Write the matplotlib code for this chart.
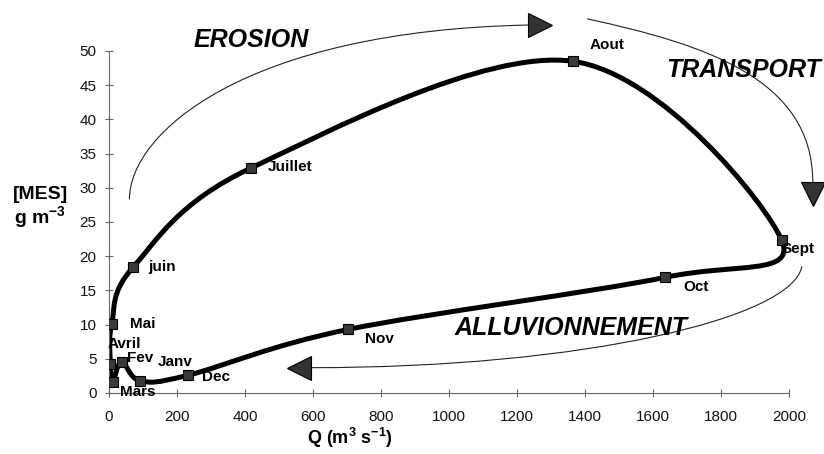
import numpy as np
import matplotlib
matplotlib.use('Agg')
import matplotlib.pyplot as plt
from matplotlib.path import Path
from matplotlib.patches import PathPatch

plt.rcParams['font.family'] = ['Liberation Sans', 'DejaVu Sans']
plt.rcParams['mathtext.fontset'] = 'custom'
plt.rcParams['mathtext.rm'] = 'Liberation Sans:bold'
plt.rcParams['mathtext.bf'] = 'Liberation Sans:bold'
plt.rcParams['mathtext.it'] = 'Liberation Sans:bold:italic'

# ---- data ----
months = ['Janv', 'Fev', 'Mars', 'Avril', 'Mai', 'juin', 'Juillet',
          'Aout', 'Sept', 'Oct', 'Nov', 'Dec']
q_flow = [91, 37, 11, 4, 8, 71, 418, 1364, 1978, 1635, 704, 233]
mes_conc = [1.8, 4.6, 1.65, 4.3, 10.1, 18.4, 32.9, 48.5, 22.4, 16.9, 9.3, 2.6]
x_ticks = list(range(0, 2001, 200))
y_ticks = list(range(0, 51, 5))

# label offsets in pixels (position styling, not data)
label_offsets = [(18, 19), (5, 4), (7, -10), (-3, 20), (18, 0), (15, 0),
                 (17, 1), (17, 16), (0, -9), (18, -10), (17, -10), (14, -2)]

fig = plt.figure(figsize=(8.24, 4.54), dpi=100)
ax = fig.add_axes([0.1323, 0.1344, 0.8252, 0.7533])
ax.set_xlim(0, 2000)
ax.set_ylim(0, 50)
ax.set_xticks(x_ticks)
ax.set_yticks(y_ticks)
for s in ['top', 'right']:
    ax.spines[s].set_visible(False)
for s in ['left', 'bottom']:
    ax.spines[s].set_color('#666666')
    ax.spines[s].set_linewidth(0.8)
ax.tick_params(direction='inout', length=6, width=0.8, color='#666666',
               labelsize=11, labelcolor='#111111')
ax.tick_params(axis='x', pad=9)
ax.tick_params(axis='y', pad=6)

# ---- smoothed closed loop (Excel-like bezier smoothing) ----
pts = np.column_stack([q_flow, mes_conc]).astype(float)
n = len(pts)
verts = [pts[0]]
codes = [Path.MOVETO]
for i in range(n):
    p0 = pts[i - 1]
    p1 = pts[i]
    p2 = pts[(i + 1) % n]
    p3 = pts[(i + 2) % n]
    c1 = p1 + (p2 - p0) / 6.0
    c2 = p2 - (p3 - p1) / 6.0
    verts += [c1, c2, p2]
    codes += [Path.CURVE4] * 3
loop = PathPatch(Path(verts, codes), fill=False, lw=3.6, edgecolor='black',
                 capstyle='round', joinstyle='round', zorder=2)
ax.add_patch(loop)

ax.plot(q_flow, mes_conc, ls='none', marker='s', ms=7.5, mfc='#3a3a3a',
        mec='black', mew=0.8, zorder=3)

for m, x, y, off in zip(months, q_flow, mes_conc, label_offsets):
    ax.annotate(m, (x, y), xytext=off, textcoords='offset pixels',
                ha='left', va='center', fontsize=11, fontweight='bold',
                annotation_clip=False, zorder=4)


# ---- curved process arrows ----
def curve(p0, p1, p2, p3):
    path = Path([p0, p1, p2, p3], [Path.MOVETO] + [Path.CURVE4] * 3)
    ax.add_patch(PathPatch(path, fill=False, lw=0.8, edgecolor='#222222',
                           clip_on=False, zorder=1))


curve((60, 28.3), (60, 38), (400, 53), (1238, 53.8))
ax.plot([1268], [53.8], marker='>', ms=17, mfc='#333333', mec='black',
        mew=0.8, clip_on=False, zorder=3)

curve((1406, 54.7), (1750, 51), (2070, 46), (2070, 30.8))
ax.plot([2070], [29.1], marker='v', ms=17, mfc='#333333', mec='black',
        mew=0.8, clip_on=False, zorder=3)

curve((2038, 18.5), (2010, 11), (1400, 3.7), (597, 3.7))
ax.plot([559], [3.7], marker='<', ms=17, mfc='#333333', mec='black',
        mew=0.8, clip_on=False, zorder=3)

big = dict(fontsize=18, fontweight='bold', fontstyle='italic',
           ha='center', va='center', clip_on=False, zorder=5)
ax.text(418, 51.6, 'EROSION', **big)
ax.text(1866, 47.2, 'TRANSPORT', **big)
ax.text(1359, 9.5, 'ALLUVIONNEMENT', **big)

fig.text(350 / 824, 1 - 438 / 454, r'Q (m$^{3}$ s$^{-1}$)', fontsize=13,
         fontweight='bold', ha='center', va='center')
fig.text(40 / 824, 1 - 208 / 454, '[MES]\ng m$^{-3}$', fontsize=14,
         fontweight='bold', ha='center', va='center', multialignment='center',
         linespacing=1.1)

fig.savefig('out.png', dpi=100)
